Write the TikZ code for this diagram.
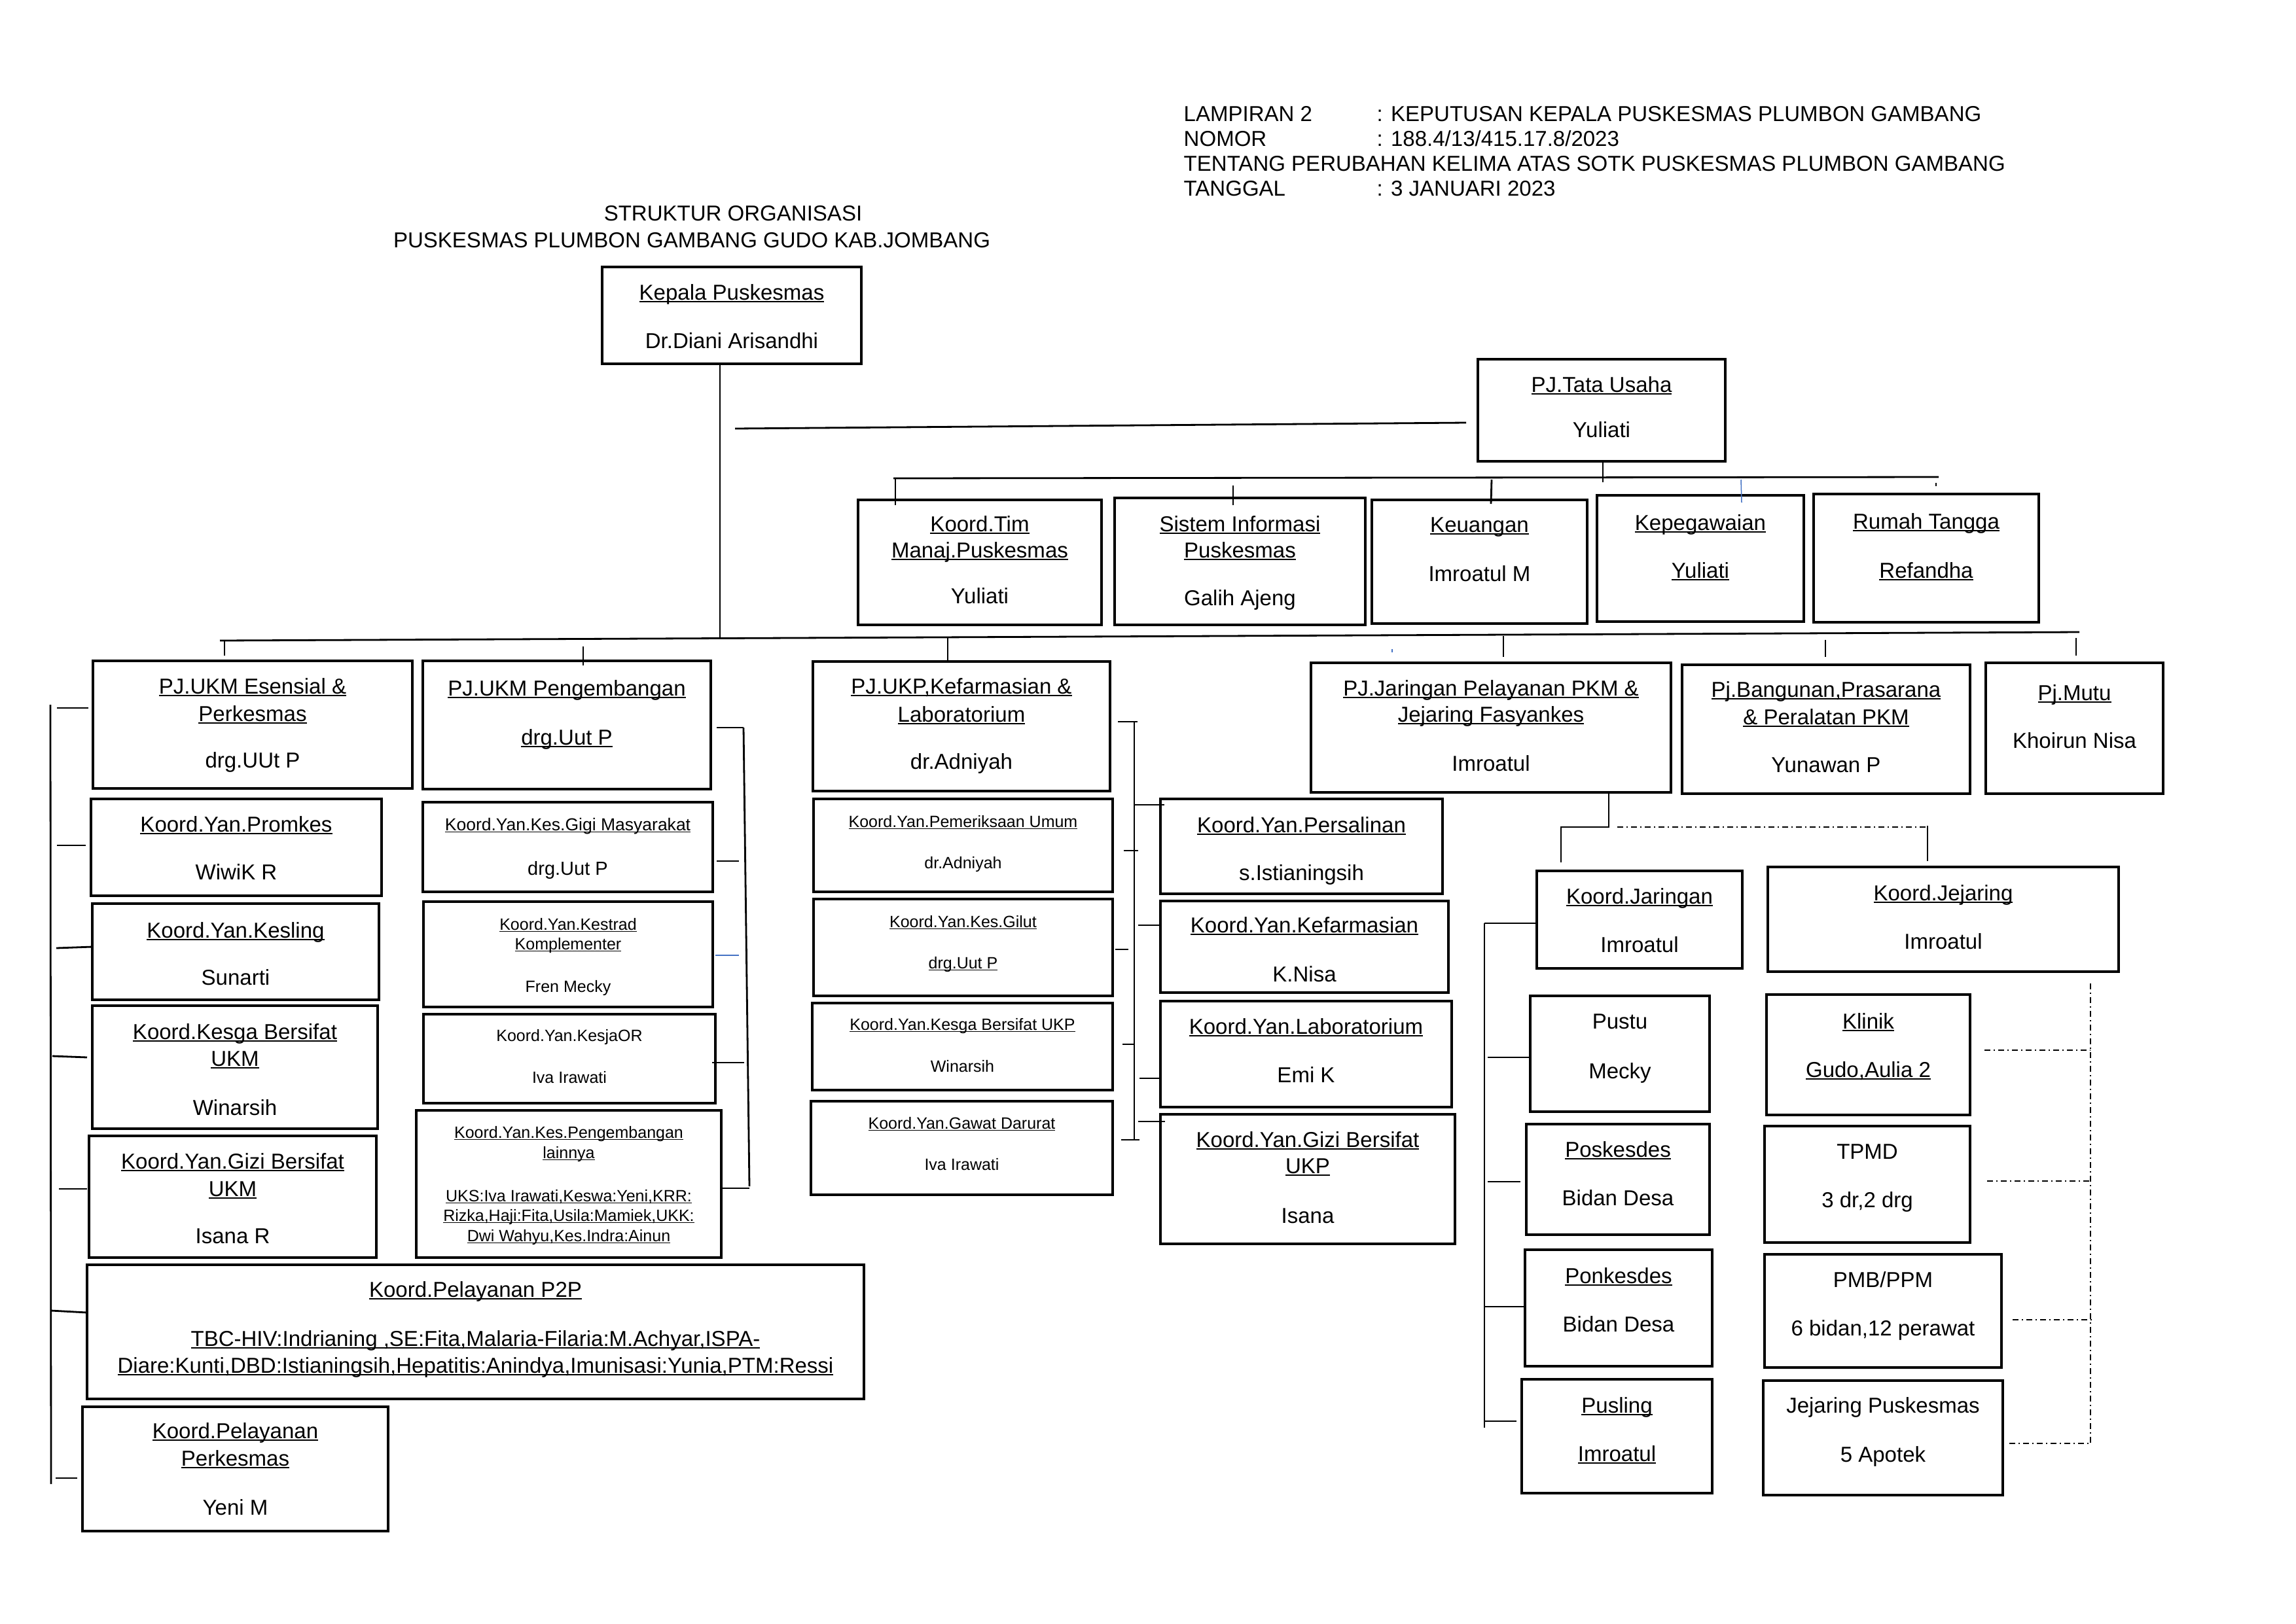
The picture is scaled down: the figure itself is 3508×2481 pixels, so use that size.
\documentclass[tikz,border=0pt]{standalone}
\usepackage{fontspec}
\setmainfont{Liberation Sans}
\usetikzlibrary{fit,calc}
\definecolor{wblue}{RGB}{68,114,196}
\newsavebox\ulbox
\newcommand\ul[1]{\sbox\ulbox{#1}\rlap{\rule[-0.13em]{\wd\ulbox}{0.065em}}\usebox\ulbox}
\newcommand\fM{\fontsize{9.39}{11}\selectfont}
\newcommand\fS{\fontsize{7.11}{8.5}\selectfont}
\newcommand\fG{\fontsize{7.54}{9}\selectfont}
\newcommand\fH{\fontsize{8.25}{10}\selectfont}
\tikzset{
  bx/.style={draw, line width=0.045cm, inner sep=0pt, outer sep=0pt},
  cn/.style={line width=0.028cm},
  cnt/.style={line width=0.02cm},
  dd/.style={line width=0.02cm, dash pattern=on 0.09cm off 0.05cm on 0.02cm off 0.05cm},
  tx/.style={anchor=base, inner sep=0pt, font=\fM},
}
\newcommand\B[5]{\node[bx, fit={(#2,#3) (#4,#5)}] (#1) {};}
\newcommand\T[5][]{\node[tx,#1] (#2) at (#3.center |- 0,#4) {#5};}
\begin{document}
\begin{tikzpicture}[x=0.01cm,y=-0.01cm]
\fill[white] (0,0) rectangle (3508,2481);
\useasboundingbox (0,0) rectangle (3508,2481);

% header
\node[tx,anchor=base west] (h1a) at (1808,185) {LAMPIRAN 2};
\node[tx,anchor=base west] (h1b) at (2103,185) {: KEPUTUSAN KEPALA PUSKESMAS PLUMBON GAMBANG};
\node[tx,anchor=base west] (h2a) at (1808,223) {NOMOR};
\node[tx,anchor=base west] (h2b) at (2103,223) {: 188.4/13/415.17.8/2023};
\node[tx,anchor=base west] (h3) at (1808,261) {TENTANG PERUBAHAN KELIMA ATAS SOTK PUSKESMAS PLUMBON GAMBANG};
\node[tx,anchor=base west] (h4a) at (1808,299) {TANGGAL};
\node[tx,anchor=base west] (h4b) at (2103,299) {: 3 JANUARI 2023};
\node[tx] (t1) at (1120,337) {STRUKTUR ORGANISASI};
\node[tx] (t2) at (1057,378) {PUSKESMAS PLUMBON GAMBANG GUDO KAB.JOMBANG};

% boxes
\B{kep}{920}{408}{1316}{556}
\B{tu}{2258}{549}{2636}{705}
\B{tim}{1311}{764}{1683}{955}
\B{si}{1703}{761}{2086}{955}
\B{keu}{2096}{764}{2425}{953}
\B{kpg}{2440}{757}{2756}{950}
\B{rt}{2771}{755}{3115}{951}
\B{ess}{142}{1010}{630}{1205}
\B{peng}{646}{1010}{1086}{1206}
\B{prom}{139}{1221}{583}{1369}
\B{ksl}{141}{1381}{579}{1528}
\B{ksg}{141}{1537}{577}{1725}
\B{gzm}{136}{1736}{575}{1922}
\B{p2p}{133}{1933}{1320}{2138}
\B{pkm}{126}{2150}{593}{2340}
\B{gigi}{646}{1226}{1089}{1363}
\B{ktr}{647}{1378}{1089}{1539}
\B{kor}{647}{1550}{1093}{1686}
\B{kpl}{636}{1697}{1102}{1922}
\B{ukp}{1242}{1011}{1696}{1209}
\B{pu}{1243}{1221}{1700}{1363}
\B{gil}{1243}{1374}{1700}{1522}
\B{kgu}{1241}{1533}{1700}{1666}
\B{gd}{1239}{1683}{1700}{1826}
\B{per}{1773}{1221}{2204}{1366}
\B{kef}{1773}{1377}{2213}{1517}
\B{lab}{1773}{1530}{2218}{1692}
\B{gzu}{1773}{1703}{2223}{1901}
\B{jar}{2003}{1013}{2553}{1211}
\B{bgn}{2570}{1016}{3010}{1213}
\B{mutu}{3034}{1013}{3305}{1213}
\B{kjar}{2348}{1331}{2662}{1480}
\B{kjej}{2701}{1325}{3237}{1485}
\B{pustu}{2338}{1522}{2612}{1699}
\B{posk}{2332}{1718}{2612}{1887}
\B{ponk}{2330}{1910}{2616}{2088}
\B{pusl}{2325}{2108}{2616}{2282}
\B{kli}{2699}{1520}{3010}{1704}
\B{tpmd}{2696}{1721}{3010}{1899}
\B{pmb}{2696}{1917}{3058}{2090}
\B{jpk}{2694}{2110}{3060}{2285}

% texts
\T{kepa}{kep}{458}{\ul{Kepala Puskesmas}}
\T{kepb}{kep}{532}{Dr.Diani Arisandhi}
\T{tua}{tu}{599}{\ul{PJ.Tata Usaha}}
\T{tub}{tu}{668}{Yuliati}
\T{tima}{tim}{812}{\ul{Koord.Tim}}
\T{timb}{tim}{852}{\ul{Manaj.Puskesmas}}
\T{timc}{tim}{922}{Yuliati}
\T{sia}{si}{812}{\ul{Sistem Informasi}}
\T{sib}{si}{852}{\ul{Puskesmas}}
\T{sic}{si}{925}{Galih Ajeng}
\T{keua}{keu}{813}{\ul{Keuangan}}
\T{keub}{keu}{888}{Imroatul M}
\T{kpga}{kpg}{810}{\ul{Kepegawaian}}
\T{kpgb}{kpg}{883}{\ul{Yuliati}}
\T{rta}{rt}{808}{\ul{Rumah Tangga}}
\T{rtb}{rt}{883}{\ul{Refandha}}
\T{essa}{ess}{1060}{\ul{PJ.UKM Esensial \&}}
\T{essb}{ess}{1102}{\ul{Perkesmas}}
\T{essc}{ess}{1173}{drg.UUt P}
\T{penga}{peng}{1063}{\ul{PJ.UKM Pengembangan}}
\T{pengb}{peng}{1138}{\ul{drg.Uut P}}
\T{proma}{prom}{1271}{\ul{Koord.Yan.Promkes}}
\T{promb}{prom}{1344}{WiwiK R}
\T{ksla}{ksl}{1433}{\ul{Koord.Yan.Kesling}}
\T{kslb}{ksl}{1505}{Sunarti}
\T{ksga}{ksg}{1588}{\ul{Koord.Kesga Bersifat}}
\T{ksgb}{ksg}{1629}{\ul{UKM}}
\T{ksgc}{ksg}{1704}{Winarsih}
\T{gzma}{gzm}{1786}{\ul{Koord.Yan.Gizi Bersifat}}
\T{gzmb}{gzm}{1828}{\ul{UKM}}
\T{gzmc}{gzm}{1900}{Isana R}
\T{p2pa}{p2p}{1982}{\ul{Koord.Pelayanan P2P}}
\T{p2pb}{p2p}{2057}{\ul{TBC-HIV:Indrianing ,SE:Fita,Malaria-Filaria:M.Achyar,ISPA-}}
\T{p2pc}{p2p}{2098}{\ul{Diare:Kunti,DBD:Istianingsih,Hepatitis:Anindya,Imunisasi:Yunia,PTM:Ressi}}
\T{pkma}{pkm}{2198}{\ul{Koord.Pelayanan}}
\T{pkmb}{pkm}{2240}{\ul{Perkesmas}}
\T{pkmc}{pkm}{2315}{Yeni M}
\T[font=\fG]{gigia}{gigi}{1269}{\ul{Koord.Yan.Kes.Gigi Masyarakat}}
\T[font=\fH]{gigib}{gigi}{1337}{drg.Uut P}
\T[font=\fS]{ktra}{ktr}{1421}{\ul{Koord.Yan.Kestrad}}
\T[font=\fS]{ktrb}{ktr}{1451}{\ul{Komplementer}}
\T[font=\fS]{ktrc}{ktr}{1516}{Fren Mecky}
\T[font=\fS]{kora}{kor}{1591}{Koord.Yan.KesjaOR}
\T[font=\fS]{korb}{kor}{1655}{Iva Irawati}
\T[font=\fS]{kpla}{kpl}{1739}{\ul{Koord.Yan.Kes.Pengembangan}}
\T[font=\fS]{kplb}{kpl}{1770}{\ul{lainnya}}
\T[font=\fS]{kplc}{kpl}{1836}{\ul{UKS:Iva Irawati,Keswa:Yeni,KRR:}}
\T[font=\fS]{kpld}{kpl}{1866}{\ul{Rizka,Haji:Fita,Usila:Mamiek,UKK:}}
\T[font=\fS]{kple}{kpl}{1897}{\ul{Dwi Wahyu,Kes.Indra:Ainun}}
\T{ukpa}{ukp}{1060}{\ul{PJ.UKP,Kefarmasian \&}}
\T{ukpb}{ukp}{1103}{\ul{Laboratorium}}
\T{ukpc}{ukp}{1175}{dr.Adniyah}
\T[font=\fS]{pua}{pu}{1264}{\ul{Koord.Yan.Pemeriksaan Umum}}
\T[font=\fS]{pub}{pu}{1327}{dr.Adniyah}
\T[font=\fS]{gila}{gil}{1417}{\ul{Koord.Yan.Kes.Gilut}}
\T[font=\fS]{gilb}{gil}{1480}{\ul{drg.Uut P}}
\T[font=\fS]{kgua}{kgu}{1574}{\ul{Koord.Yan.Kesga Bersifat UKP}}
\T[font=\fS]{kgub}{kgu}{1638}{Winarsih}
\T[font=\fS]{gda}{gd}{1725}{\ul{Koord.Yan.Gawat Darurat}}
\T[font=\fS]{gdb}{gd}{1788}{Iva Irawati}
\T{pera}{per}{1272}{\ul{Koord.Yan.Persalinan}}
\T{perb}{per}{1345}{s.Istianingsih}
\T{kefa}{kef}{1425}{\ul{Koord.Yan.Kefarmasian}}
\T{kefb}{kef}{1500}{K.Nisa}
\T{laba}{lab}{1580}{\ul{Koord.Yan.Laboratorium}}
\T{labb}{lab}{1654}{Emi K}
\T{gzua}{gzu}{1753}{\ul{Koord.Yan.Gizi Bersifat}}
\T{gzub}{gzu}{1793}{\ul{UKP}}
\T{gzuc}{gzu}{1869}{Isana}
\T{jara}{jar}{1063}{\ul{PJ.Jaringan Pelayanan PKM \&}}
\T{jarb}{jar}{1103}{\ul{Jejaring Fasyankes}}
\T{jarc}{jar}{1178}{Imroatul}
\T{bgna}{bgn}{1065}{\ul{Pj.Bangunan,Prasarana}}
\T{bgnb}{bgn}{1107}{\ul{\& Peralatan PKM}}
\T{bgnc}{bgn}{1180}{Yunawan P}
\T{mutua}{mutu}{1070}{\ul{Pj.Mutu}}
\T{mutub}{mutu}{1143}{Khoirun Nisa}
\T{kjara}{kjar}{1381}{\ul{Koord.Jaringan}}
\T{kjarb}{kjar}{1455}{Imroatul}
\T{kjeja}{kjej}{1376}{\ul{Koord.Jejaring}}
\T{kjejb}{kjej}{1450}{Imroatul}
\T{pustua}{pustu}{1572}{Pustu}
\T{pustub}{pustu}{1648}{Mecky}
\T{poska}{posk}{1768}{\ul{Poskesdes}}
\T{poskb}{posk}{1842}{Bidan Desa}
\T{ponka}{ponk}{1961}{\ul{Ponkesdes}}
\T{ponkb}{ponk}{2035}{Bidan Desa}
\T{pusla}{pusl}{2159}{\ul{Pusling}}
\T{puslb}{pusl}{2233}{\ul{Imroatul}}
\T{klia}{kli}{1572}{\ul{Klinik}}
\T{klib}{kli}{1646}{\ul{Gudo,Aulia 2}}
\T{tpmda}{tpmd}{1771}{TPMD}
\T{tpmdb}{tpmd}{1845}{3 dr,2 drg}
\T{pmba}{pmb}{1967}{PMB/PPM}
\T{pmbb}{pmb}{2041}{6 bidan,12 perawat}
\T{jpka}{jpk}{2159}{Jejaring Puskesmas}
\T{jpkb}{jpk}{2234}{5 Apotek}

% ---- connectors ----
\coordinate (tk) at (1100,975);
\draw[cn] (kep.south -| tk) -- (tk);
\coordinate (busL) at (336,979);
\coordinate (busR) at (3177,966);
\draw[cn] (busL) -- (busR);
\coordinate (tl) at (1123,655);
\draw[cn] (tl) -- ($(tu.west)+(-18,19)$);
% tata usaha bus
\coordinate (tbL) at (1365,731);
\coordinate (tbR) at (2962,729);
\draw[cn] (tbL) -- (tbR);
\draw[cn] (tu.south -| 2449,0) -- (2449,737);
\draw[cn] (1368,731) -- (1368,772);
\draw[cn] (1884,742) -- (1884,772);
\draw[cn] (2279,733) -- (2278,770);
\draw[line width=0.015cm, wblue] (2660,733) -- (2661,768);
\draw[cn] (2958,738) -- (2958,743);
% main bus ticks
\draw[cn] (343,980) -- (343,1002);
\draw[cn] (891,988) -- (891,1017);
\draw[cn] (1448,975) -- (ukp.north -| 1448,0);
\draw[line width=0.015cm, wblue] (2127,992) -- (2127,997);
\draw[cn] (2297,972) -- (2297,1004);
\draw[cn] (2789,978) -- (2789,1004);
\draw[cn] (3172,975) -- (3172,1002);
% left column
\draw[cn] (77,1077) -- (78,2268);
\draw[cn] (87,1082) -- (135,1082);
\draw[cn] (87,1292) -- (131,1292);
\draw[cn] (86,1449) -- (ksl.west |- 0,1447);
\draw[cn] (80,1614) -- (133,1616);
\draw[cn] (90,1817) -- (133,1817);
\draw[cn] (78,2003) -- (p2p.west |- 0,2006);
\draw[cn] (85,2259) -- (118,2259);
% pengembangan column
\draw[cn] (1136,1112) -- (1145,1813);
\draw[cn] (1095,1112) -- (1136,1112);
\draw[cn] (1095,1316) -- (1129,1316);
\draw[line width=0.015cm, wblue] (1093,1460) -- (1129,1460);
\draw[cn] (1088,1624) -- (1137,1624);
\draw[cn] (kpl.east |- 0,1816) -- (1145,1816);
% UKP column
\draw[cn] (1733,1103) -- (1733,1742);
\draw[cn] (1708,1103) -- (1738,1103);
\draw[cn] (1734,1230) -- (1779,1230);
\draw[cn] (1717,1300) -- (1739,1300);
\draw[cn] (1739,1414) -- (kef.west |- 0,1414);
\draw[cn] (1704,1451) -- (1724,1451);
\draw[cn] (1715,1596) -- (1734,1596);
\draw[cn] (1741,1648) -- (lab.west |- 0,1648);
\draw[cn] (1739,1714) -- (1780,1714);
\draw[cn] (1713,1742) -- (1741,1742);
% jaringan
\draw[cn] (jar.south -| 2458,0) -- (2458,1264) -- (2385,1264) -- (2385,1318);
\draw[dd] (2471,1264) -- (2945,1264);
\draw[cnt] (2945,1262) -- (2945,1316);
\draw[cnt] (2268,1411) -- (2268,2182);
\draw[cnt] (2268,1411) -- (kjar.west |- 0,1411);
\draw[cnt] (2273,1616) -- (pustu.west |- 0,1616);
\draw[cnt] (2273,1806) -- (2323,1806);
\draw[cnt] (2268,1997) -- (ponk.west |- 0,1997);
\draw[cnt] (2268,2172) -- (2317,2172);
% jejaring dash-dot
\draw[dd] (3194,1503) -- (3194,2207);
\draw[dd] (3032,1605) -- (3194,1605);
\draw[dd] (3036,1805) -- (3197,1805);
\draw[dd] (3075,2017) -- (3197,2017);
\draw[dd] (3070,2206) -- (3194,2206);
\end{tikzpicture}
\end{document}
